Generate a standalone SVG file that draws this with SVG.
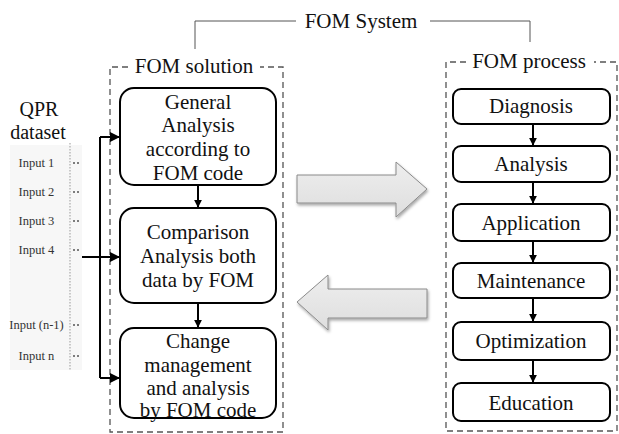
<svg xmlns="http://www.w3.org/2000/svg" width="619" height="434" viewBox="0 0 619 434">
<defs>
<style>
.t{font-family:"Liberation Serif","Times New Roman",serif;font-size:21px;fill:#111;text-anchor:middle}
.q{font-family:"Liberation Serif","Times New Roman",serif;font-size:20px;fill:#111;text-anchor:middle}
.in{font-family:"Liberation Serif","Times New Roman",serif;font-size:12.5px;fill:#333;text-anchor:middle}
.box{fill:#fff;stroke:#000;stroke-width:2}
.dash{fill:none;stroke:#555;stroke-width:1.3;stroke-dasharray:6 4}
.br{fill:none;stroke:#555;stroke-width:1}
.con{fill:none;stroke:#000;stroke-width:2}
.big{fill:url(#g);stroke:#8a8a8a;stroke-width:1;filter:url(#sh)}
.dot{fill:#555}
</style>
<marker id="ah" viewBox="0 0 10 10" refX="9" refY="5" markerWidth="5" markerHeight="5" orient="auto" markerUnits="strokeWidth">
<path d="M0,0 L10,5 L0,10 z" fill="#000"/>
</marker>
<marker id="ah2" viewBox="0 0 10 10" refX="9" refY="5" markerWidth="4" markerHeight="4" orient="auto" markerUnits="strokeWidth">
<path d="M0,0 L10,5 L0,10 z" fill="#000"/>
</marker>
<linearGradient id="g" x1="0" y1="0" x2="0" y2="1">
<stop offset="0" stop-color="#eeeeee"/>
<stop offset="1" stop-color="#dedede"/>
</linearGradient>
<filter id="sh" x="-20%" y="-30%" width="140%" height="160%">
<feDropShadow dx="1" dy="2" stdDeviation="1.5" flood-color="#000" flood-opacity="0.35"/>
</filter>
</defs>

<!-- FOM System bracket -->
<g id="fom-system">
<path class="br" d="M195,49 V21 H296"/>
<path class="br" d="M430,21 H530 V42"/>
<text class="t" x="361" y="28">FOM System</text>
</g>

<!-- QPR dataset -->
<g id="qpr-dataset">
<rect x="10" y="145" width="72" height="225" fill="#f7f7f7"/>
<text class="q" x="39" y="116">QPR</text>
<text class="q" x="38" y="139">dataset</text>
<line x1="70" y1="143" x2="70" y2="370" stroke="#aaa" stroke-width="1.2" stroke-dasharray="1.5 1.5"/>
<text class="in" x="36.5" y="167">Input 1</text>
<text class="in" x="36.5" y="196">Input 2</text>
<text class="in" x="36.5" y="225">Input 3</text>
<text class="in" x="36.5" y="254">Input 4</text>
<text class="in" x="36.5" y="329">Input (n-1)</text>
<text class="in" x="36.5" y="360">Input n</text>
<g>
<circle class="dot" cx="74" cy="163" r="1"/><circle class="dot" cx="78" cy="163" r="1"/>
<circle class="dot" cx="74" cy="192" r="1"/><circle class="dot" cx="78" cy="192" r="1"/>
<circle class="dot" cx="74" cy="221" r="1"/><circle class="dot" cx="78" cy="221" r="1"/>
<circle class="dot" cx="74" cy="250" r="1"/><circle class="dot" cx="78" cy="250" r="1"/>
<circle class="dot" cx="74" cy="325" r="1"/><circle class="dot" cx="78" cy="325" r="1"/>
<circle class="dot" cx="74" cy="356" r="1"/><circle class="dot" cx="78" cy="356" r="1"/>
</g>
</g>

<!-- FOM solution container -->
<g id="fom-solution">
<path class="dash" d="M128,67 H110 V432 H283 V67 H260"/>
<text class="t" x="194" y="73">FOM solution</text>
</g>

<g id="general-analysis">
<rect class="box" x="120" y="88" width="156" height="97" rx="14"/>
<text class="t" x="198" y="109">General</text>
<text class="t" x="198" y="132">Analysis</text>
<text class="t" x="198" y="156">according to</text>
<text class="t" x="198" y="180">FOM code</text>
</g>

<g id="comparison-analysis">
<rect class="box" x="120" y="208" width="156" height="95" rx="14"/>
<text class="t" x="198" y="239">Comparison</text>
<text class="t" x="198" y="263">Analysis both</text>
<text class="t" x="198" y="287">data by FOM</text>
</g>

<g id="change-management">
<rect class="box" x="120" y="328" width="156" height="90" rx="14"/>
<text class="t" x="198" y="348">Change</text>
<text class="t" x="198" y="372">management</text>
<text class="t" x="198" y="395">and analysis</text>
<text class="t" x="198" y="417">by FOM code</text>
</g>

<!-- FOM process container -->
<g id="fom-process">
<path class="dash" d="M466,62 H446 V431 H617 V62 H594"/>
<text class="t" x="529" y="68">FOM process</text>
</g>

<g id="diagnosis">
<rect class="box" x="453" y="89" width="157" height="35" rx="8"/>
<text class="t" x="531" y="113">Diagnosis</text>
</g>
<g id="analysis">
<rect class="box" x="453" y="146" width="157" height="36" rx="8"/>
<text class="t" x="531" y="171">Analysis</text>
</g>
<g id="application">
<rect class="box" x="453" y="204" width="157" height="37" rx="8"/>
<text class="t" x="531" y="230">Application</text>
</g>
<g id="maintenance">
<rect class="box" x="453" y="263" width="157" height="35" rx="8"/>
<text class="t" x="531" y="288">Maintenance</text>
</g>
<g id="optimization">
<rect class="box" x="453" y="322" width="157" height="38" rx="8"/>
<text class="t" x="531" y="348">Optimization</text>
</g>
<g id="education">
<rect class="box" x="453" y="383" width="157" height="38" rx="8"/>
<text class="t" x="531" y="410">Education</text>
</g>

<!-- Big transfer arrows -->
<g id="arrow-right">
<path class="big" d="M297,175 H396 V162 L427,189 L396,217 V203 H297 Z"/>
</g>
<g id="arrow-left">
<path class="big" d="M427,289 H328 V275 L297,302 L328,330 V318 H427 Z"/>
</g>

<!-- Connectors -->
<g id="connectors">
<path class="con" d="M198,185 V207" stroke-width="2.5" marker-end="url(#ah2)"/>
<path class="con" d="M198,303 V327" stroke-width="2.5" marker-end="url(#ah2)"/>
<path class="con" d="M533,124 V145" stroke-width="2.5" marker-end="url(#ah2)"/>
<path class="con" d="M533,182 V203" stroke-width="2.5" marker-end="url(#ah2)"/>
<path class="con" d="M533,241 V262" stroke-width="2.5" marker-end="url(#ah2)"/>
<path class="con" d="M533,298 V321" stroke-width="2.5" marker-end="url(#ah2)"/>
<path class="con" d="M533,360 V382" stroke-width="2.5" marker-end="url(#ah2)"/>
<path class="con" d="M82,257 H100" stroke-width="2.5"/>
<path class="con" d="M100,137 V378" stroke-width="1.8"/>
<path class="con" d="M100,137 H119" stroke-width="1.8" marker-end="url(#ah)"/>
<path class="con" d="M100,257 H119" stroke-width="1.8" marker-end="url(#ah)"/>
<path class="con" d="M100,378 H119" stroke-width="1.8" marker-end="url(#ah)"/>
</g>
</svg>
